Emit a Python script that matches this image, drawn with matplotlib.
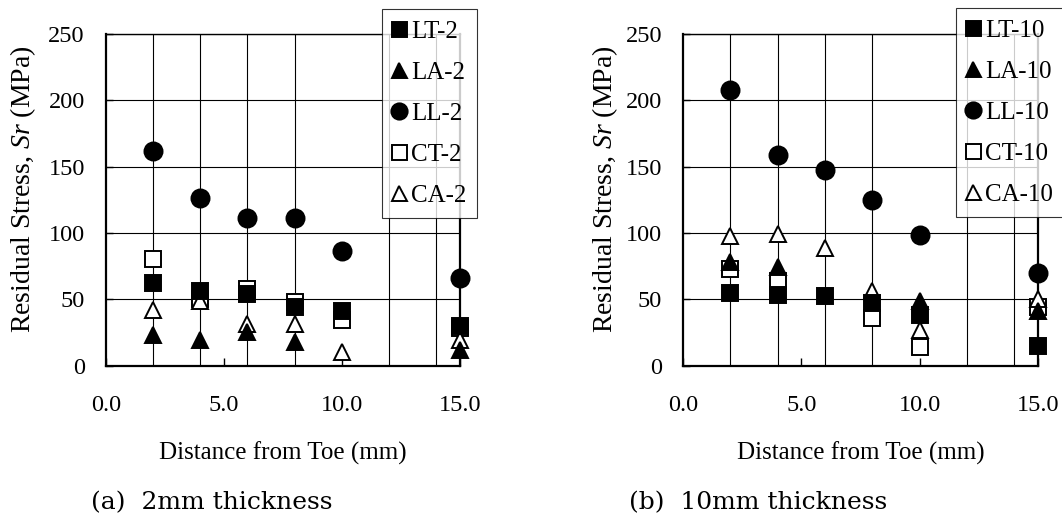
import numpy as np
import matplotlib
matplotlib.use("Agg")
import matplotlib.pyplot as plt
from matplotlib.ticker import MultipleLocator, FormatStrFormatter

plt.rcParams['font.family'] = ['Liberation Serif', 'DejaVu Serif']
plt.rcParams['mathtext.fontset'] = 'custom'
plt.rcParams['mathtext.rm'] = 'Liberation Serif'
plt.rcParams['mathtext.it'] = 'Liberation Serif:italic'

# ---------------- data ----------------
distance = [2, 4, 6, 8, 10, 15]

LT_2 = [62, 56, 54, 44, 41, 30]
LA_2 = [23, 19, 25, 18, np.nan, 12]
LL_2 = [162, 126, 111, 111, 86, 66]
CT_2 = [80, 50, 58, 48, 34, 28]
CA_2 = [42, 49, 31, 31, 10, 19]

LT_10 = [54.5, 53, 52.5, 47, 38, 15]
LA_10 = [78, 74, np.nan, np.nan, 49, 41]
LL_10 = [208, 159, 147.5, 125, 98.5, 70]
CT_10 = [73, 64, np.nan, 36, 14, 44]
CA_10 = [98, 99, 88.5, 56, 27, 50]

panel_a = {"LT-2": LT_2, "LA-2": LA_2, "LL-2": LL_2, "CT-2": CT_2, "CA-2": CA_2}
panel_b = {"LT-10": LT_10, "LA-10": LA_10, "LL-10": LL_10, "CT-10": CT_10, "CA-10": CA_10}

x_ticks = [0, 5, 10, 15]
y_ticks = [0, 50, 100, 150, 200, 250]
x_label = "Distance from Toe (mm)"
y_label = r"Residual Stress, $\mathit{Sr}$ (MPa)"
captions = ["(a)  2mm thickness", "(b)  10mm thickness"]

# ---------------- styles ----------------
W, H = 1062, 520
FS_TICK = 17.5
FS_LEG = 18
FS_XLAB = 18
FS_YLAB = 20
FS_CAP = 18
styles = {
    "LT": dict(marker='s', mfc='black', mec='black', ms=12, z=4),
    "LA": dict(marker='^', mfc='black', mec='black', ms=12, z=4),
    "LL": dict(marker='o', mfc='black', mec='black', ms=13, z=4),
    "CT": dict(marker='s', mfc='white', mec='black', ms=12, z=3),
    "CA": dict(marker='^', mfc='white', mec='black', ms=12, z=3),
}

fig = plt.figure(figsize=(W / 100, H / 100), dpi=100)

def px_ax(x0, x1, ytop, ybot):
    return fig.add_axes([x0 / W, 1 - ybot / H, (x1 - x0) / W, (ybot - ytop) / H])

axes = [px_ax(105.7, 460, 34, 365.5), px_ax(683, 1038, 34, 365.5)]
legend_pos = [(382, 9), (956, 8)]
ylabel_x = [23, 605]
caption_x = [91, 629]

for ax, panel, lpos, ylx, cx, cap in zip(axes, [panel_a, panel_b], legend_pos,
                                         ylabel_x, caption_x, captions):
    handles = []
    for name, vals in panel.items():
        st = styles[name.split('-')[0]]
        h, = ax.plot(distance, vals, linestyle='none', marker=st['marker'],
                     markerfacecolor=st['mfc'], markeredgecolor=st['mec'],
                     markersize=st['ms'], markeredgewidth=1.4, zorder=st['z'],
                     label=name, clip_on=False)
        handles.append(h)
    ax.set_xlim(0, 15)
    ax.set_ylim(0, 250)
    ax.set_xticks(x_ticks)
    ax.xaxis.set_major_formatter(FormatStrFormatter('%.1f'))
    ax.xaxis.set_minor_locator(MultipleLocator(2))
    ax.set_yticks(y_ticks)
    ax.tick_params(axis='x', which='major', direction='in', length=6, width=1,
                   pad=21, labelsize=FS_TICK)
    ax.tick_params(axis='x', which='minor', length=0)
    ax.tick_params(axis='y', which='major', direction='in', length=5, width=1,
                   pad=15, labelsize=FS_TICK)
    ax.grid(False)
    ax.xaxis.grid(True, which='minor', color='black', linewidth=0.8)
    ax.yaxis.grid(True, which='major', color='black', linewidth=0.8)
    ax.set_axisbelow(True)
    for s in ['left', 'bottom', 'right']:
        ax.spines[s].set_linewidth(1.6)
    ax.spines['top'].set_linewidth(1.0)

    ax.set_xlabel(x_label, fontsize=FS_XLAB)
    ax.xaxis.label.set_verticalalignment('center')
    ax.xaxis.set_label_coords(0.5, (365.5 - 453) / 331.5)
    ax.set_ylabel(y_label, fontsize=FS_YLAB)
    ax.yaxis.label.set_verticalalignment('center')
    x0 = ax.get_position().x0 * W
    ax.yaxis.set_label_coords((ylx - x0) / 355, (365.5 - 189.5) / 331.5)

    leg = fig.legend(handles=handles, loc='upper left',
                     bbox_to_anchor=(lpos[0] / W, 1 - lpos[1] / H),
                     bbox_transform=fig.transFigure, borderaxespad=0,
                     fontsize=FS_LEG, frameon=True, fancybox=False, shadow=False,
                     handlelength=0.45, handletextpad=0.25, borderpad=0.45,
                     labelspacing=0.74, markerscale=0.9, numpoints=1)
    leg.get_frame().set_edgecolor('black')
    leg.get_frame().set_linewidth(0.8)
    leg.set_zorder(10)

    fig.text(cx / W, 1 - 503 / H, cap, fontsize=FS_CAP, family='DejaVu Serif',
             ha='left', va='center')

fig.savefig("out.png", dpi=100)
